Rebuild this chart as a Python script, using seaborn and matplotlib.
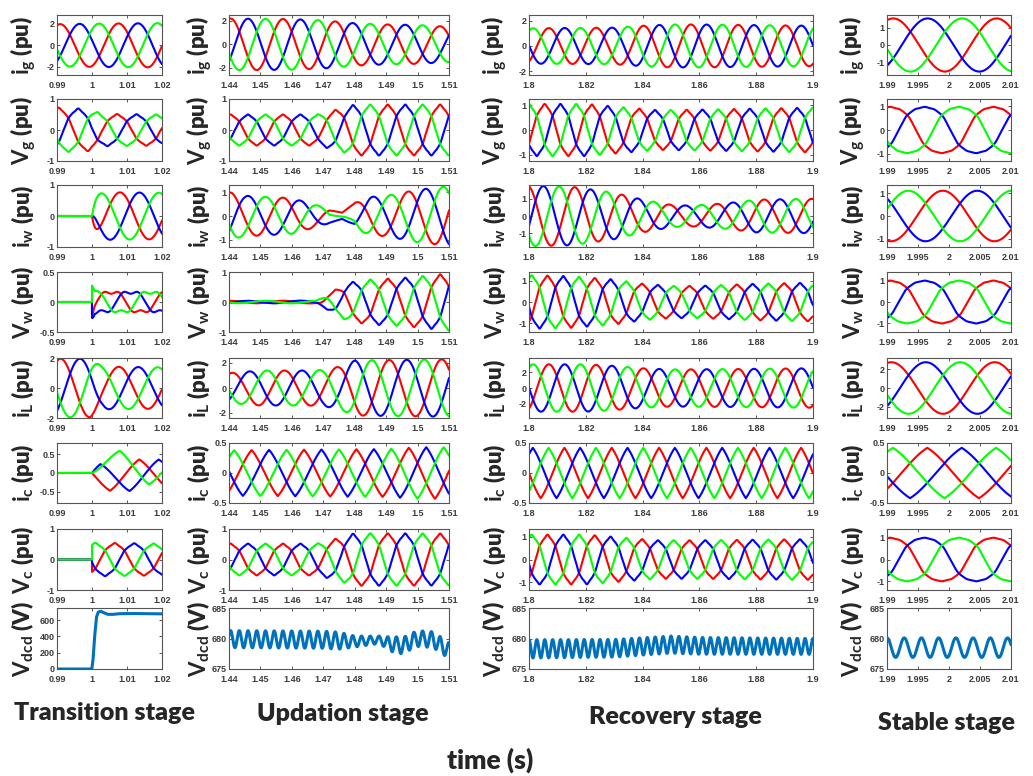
import numpy as np
import pandas as pd
import matplotlib
matplotlib.use("Agg")
import matplotlib.pyplot as plt
from matplotlib.ticker import FuncFormatter
import seaborn as sns

# ---------------------------------------------------------------- data
FREQ = 60.0            # grid frequency (Hz)
RIPPLE_FREQ = 360.0    # dc-link ripple frequency (Hz)

STAGES = ["Transition stage", "Updation stage", "Recovery stage", "Stable stage"]
STAGE_XLIM = [(0.99, 1.02), (1.44, 1.51), (1.8, 1.9), (1.99, 2.01)]
STAGE_XTICKS = [
    [0.99, 1.0, 1.01, 1.02],
    [1.44, 1.45, 1.46, 1.47, 1.48, 1.49, 1.5, 1.51],
    [1.8, 1.82, 1.84, 1.86, 1.88, 1.9],
    [1.99, 1.995, 2.0, 2.005, 2.01],
]

ROW_LABELS = [
    r"$\mathrm{i_g}$ (pu)", r"$\mathrm{V_g}$ (pu)", r"$\mathrm{i_w}$ (pu)",
    r"$\mathrm{V_w}$ (pu)", r"$\mathrm{i_L}$ (pu)", r"$\mathrm{i_c}$ (pu)",
    r"$\mathrm{V_c}$ (pu)", r"$\mathrm{V_{dcd}}$ (V)",
]

PHASES = ["a", "b", "c"]
PHASE_COLORS = {"a": "#ff0000", "b": "#0000ff", "c": "#00ff00"}
PHASE_OFFSETS = [0.0, -2 * np.pi / 3, 2 * np.pi / 3]

# y limits and ticks (rows: ig, Vg, iw, Vw, iL, ic, Vc, Vdcd)
YLIMS = [
    [(-2.75, 2.8), (-1, 1), (-1, 1), (-0.5, 0.5), (-2, 2), (-0.8, 0.8), (-1, 1), (0, 750)],
    [(-2.6, 2.5), (-1, 1), (-1.3, 1.3), (-1, 1), (-2.4, 2.4), (-0.5, 0.5), (-1, 1), (675, 685)],
    [(-2.3, 2.45), (-1.25, 1.25), (-1.8, 1.8), (-1.4, 1.4), (-3.8, 3.8), (-0.5, 0.5), (-1.35, 1.35), (675, 685)],
    [(-1.75, 1.75), (-1.3, 1.3), (-1.35, 1.35), (-1.4, 1.4), (-3.2, 3.2), (-0.5, 0.5), (-1.4, 1.4), (675, 685)],
]
YTICKS = [
    [[-2, 0, 2], [-1, 0, 1], [-1, 0, 1], [-0.5, 0, 0.5], [-2, 0, 2], [-0.5, 0, 0.5], [-1, 0, 1], [0, 200, 400, 600]],
    [[-2, 0, 2], [-1, 0, 1], [-1, 0, 1], [-1, 0, 1], [-2, 0, 2], [-0.5, 0, 0.5], [-1, 0, 1], [675, 680, 685]],
    [[-2, 0, 2], [-1, 0, 1], [-1, 0, 1], [-1, 0, 1], [-2, 0, 2], [-0.5, 0, 0.5], [-1, 0, 1], [675, 680, 685]],
    [[-1, 0, 1], [-1, 0, 1], [-1, 0, 1], [-1, 0, 1], [-2, 0, 2], [-0.5, 0, 0.5], [-1, 0, 1], [675, 680, 685]],
]

# harmonic content of the voltage traces: {order: relative amplitude}
SHAPE_HARM = {
    "volt": {3: -0.03, 5: 0.03, 7: 0.02, 11: 0.012},
    "square": {3: -0.22, 5: -0.04},
    "trap": {3: -0.09, 5: 0.02, 11: 0.01},
}

# --- transition stage (switch-on at 1.0 s)
TR_ONSET = 1.0
TR_REF = [0.9909, 0.9905, 1.0080, 1.0055, 0.9910, 1.0135, 1.0065]
TR_SHAPE = ["sine", "volt", "sine", "square", "sine", "tri", "volt"]
TR_TAU = [0, 0, 1.0e-3, 0, 0, 12e-3, 0]
TR_AMP = [
    ([0.99, 1.0, 1.02], [1.95, 2.0, 2.05]),
    ([0.99, 0.999, 1.003, 1.02], [0.72, 0.68, 0.52, 0.5]),
    ([0.99, 0.99999, 1.0, 1.02], [0.0, 0.0, 0.77, 0.75]),
    ([0.99, 0.99999, 1.0, 1.0008, 1.002, 1.02], [0.0, 0.0, 0.34, 0.2, 0.17, 0.17]),
    ([0.99, 0.9995, 1.003, 1.02], [1.95, 1.95, 1.42, 1.38]),
    ([0.99, 0.99999, 1.0, 1.02], [0.0, 0.0, 0.4, 0.4]),
    ([0.99, 0.99999, 1.0, 1.02], [0.0, 0.0, 0.55, 0.52]),
]
TR_VDC_T = [0.99, 0.99995, 1.0003, 1.0008, 1.0013, 1.0018, 1.0025, 1.0035, 1.0045, 1.006, 1.008, 1.012, 1.02]
TR_VDC_V = [0, 0, 120, 420, 640, 700, 710, 690, 672, 672, 680, 682, 678]

# --- updation stage
UP_REF = [1.4405, 1.4405, 1.4405, 1.4405, 1.4410, 1.4472, 1.4405]
UP_SHAPE = ["sine", "volt", "sine", "volt", "sine", "tri", "volt"]
UP_IW_SHIFT = ([1.44, 1.472, 1.48, 1.51], [0.0, 0.0, 6.5e-3, 6.5e-3])
UP_AMP = [
    ([1.44, 1.46, 1.47, 1.48, 1.49, 1.5, 1.51], [2.2, 2.15, 2.05, 1.8, 1.7, 1.65, 1.5]),
    ([1.44, 1.468, 1.474, 1.48, 1.51], [0.5, 0.5, 0.65, 0.82, 0.82]),
    ([1.44, 1.445, 1.46, 1.468, 1.476, 1.48, 1.485, 1.49, 1.5, 1.51],
     [1.0, 0.85, 0.75, 0.45, 0.15, 0.55, 0.8, 0.85, 1.1, 1.25]),
    ([1.44, 1.468, 1.472, 1.478, 1.485, 1.495, 1.51], [0.04, 0.05, 0.3, 0.65, 0.75, 0.8, 0.95]),
    ([1.44, 1.45, 1.465, 1.47, 1.475, 1.48, 1.51], [1.2, 1.4, 1.4, 1.45, 1.7, 2.2, 2.3]),
    ([1.44, 1.49, 1.5, 1.51], [0.38, 0.4, 0.43, 0.43]),
    ([1.44, 1.468, 1.474, 1.48, 1.51], [0.52, 0.52, 0.68, 0.86, 0.85]),
]
UP_VDC_REF = 1.4405
UP_VDC_MEAN = ([1.44, 1.47, 1.48, 1.488, 1.49, 1.495, 1.5, 1.505, 1.51],
               [679.9, 679.8, 679.5, 679.8, 679.3, 678.8, 680.0, 679.8, 678.0])
UP_VDC_RIPPLE = ([1.44, 1.475, 1.48, 1.488, 1.492, 1.51], [1.4, 1.4, 0.9, 0.6, 1.3, 1.3])

# --- recovery stage
RC_REF = [1.8070, 1.8055, 1.7995, 1.8065, 1.8070, 1.7958, 1.8065]
RC_SHAPE = ["sine", "volt", "sine", "volt", "sine", "tri", "volt"]
RC_AMP = [
    ([1.8, 1.83, 1.84, 1.85, 1.86, 1.9], [1.4, 1.45, 1.6, 1.7, 1.7, 1.6]),
    ([1.8, 1.82, 1.83, 1.845, 1.86, 1.9], [1.05, 1.05, 0.95, 0.8, 0.82, 0.9]),
    ([1.8, 1.815, 1.83, 1.84, 1.85, 1.857, 1.87, 1.88, 1.9],
     [1.75, 1.7, 1.35, 0.95, 0.65, 0.6, 0.75, 0.95, 1.0]),
    ([1.8, 1.815, 1.83, 1.84, 1.85, 1.86, 1.88, 1.9], [1.25, 1.2, 1.05, 0.85, 0.75, 0.75, 0.85, 0.9]),
    ([1.8, 1.82, 1.83, 1.84, 1.85, 1.87, 1.9], [3.0, 3.0, 2.8, 2.5, 2.35, 2.4, 2.5]),
    ([1.8, 1.9], [0.42, 0.42]),
    ([1.8, 1.82, 1.83, 1.845, 1.86, 1.9], [1.1, 1.1, 1.0, 0.85, 0.85, 0.9]),
]
RC_VDC_REF = 1.8
RC_VDC_MEAN = ([1.8, 1.83, 1.85, 1.86, 1.9], [678.3, 678.4, 679.0, 678.8, 678.7])
RC_VDC_RIPPLE = ([1.8, 1.9], [1.5, 1.3])

# --- stable stage
ST_REF = [1.9910, 1.9905, 1.9990, 1.9905, 1.9907, 1.9965, 1.9905]
ST_SHAPE = ["sine", "trap", "sine", "trap", "sine", "tri", "trap"]
ST_AMP = [
    ([1.99, 2.01], [1.55, 1.55]),
    ([1.99, 2.01], [0.97, 0.97]),
    ([1.99, 2.01], [1.1, 1.1]),
    ([1.99, 2.01], [1.0, 1.0]),
    ([1.99, 2.01], [2.75, 2.75]),
    ([1.99, 2.01], [0.42, 0.42]),
    ([1.99, 2.01], [1.0, 1.0]),
]
ST_VDC_REF = 1.99
ST_VDC_MEAN = ([1.99, 2.01], [678.5, 678.5])
ST_VDC_RIPPLE = ([1.99, 2.01], [1.6, 1.6])

# ---------------------------------------------------------------- layout (pixels)
W, H = 1033, 776
COL_LEFT = [57, 229, 529, 887]
COL_RIGHT = [162, 449, 813, 1011]
ROW_TOP = [15, 99, 185, 272, 358, 443, 529, 608]
ROW_BOTTOM = [75, 161, 247, 332, 418, 503, 590, 669]
LABEL_X = [23, 199, 494, 852]
STAGE_TITLE_POS = [(104, 713), (343, 714), (675, 717), (946, 723)]

# ---------------------------------------------------------------- style
sns.set_style("white")
plt.rcParams["font.family"] = ["Lato", "DejaVu Sans"]
plt.rcParams["mathtext.fontset"] = "custom"
plt.rcParams["mathtext.rm"] = "Lato:bold"
plt.rcParams["mathtext.it"] = "Lato:bold"
plt.rcParams["mathtext.bf"] = "Lato:bold"

TICK_COLOR = "#3c3c3c"


def harmonic_wave(theta, harm):
    out = np.cos(theta)
    for k, h in harm.items():
        out = out + h * np.cos(k * theta)
    return out


def waveform(theta, shape):
    if shape == "sine":
        return np.cos(theta)
    if shape == "tri":
        tri = (2 / np.pi) * np.arcsin(np.cos(theta))
        return 0.65 * tri + 0.35 * np.cos(theta)
    harm = SHAPE_HARM[shape]
    grid = np.linspace(0, 2 * np.pi, 2000)
    return harmonic_wave(theta, harm) / harmonic_wave(grid, harm).max()


def three_phase(t, ref, amp, shape, shift=None, onset=None, tau=0.0):
    s = np.interp(t, *shift) if shift is not None else 0.0
    theta = 2 * np.pi * FREQ * (t - ref - s)
    A = np.interp(t, *amp)
    frames = []
    for name, off in zip(PHASES, PHASE_OFFSETS):
        y = waveform(theta + off, shape)
        if tau > 0:
            th0 = 2 * np.pi * FREQ * (onset - ref) + off
            y = y - waveform(th0, shape) * np.exp(-np.clip(t - onset, 0, None) / tau)
        frames.append(pd.DataFrame({"time": t, "value": A * y, "phase": name}))
    return pd.concat(frames, ignore_index=True)


def ripple(t, ref, mean, amp):
    m = np.interp(t, *mean)
    a = np.interp(t, *amp)
    return pd.DataFrame({"time": t, "value": m + a * np.cos(2 * np.pi * RIPPLE_FREQ * (t - ref))})


STAGE_PARAMS = [
    (TR_REF, TR_SHAPE, TR_AMP),
    (UP_REF, UP_SHAPE, UP_AMP),
    (RC_REF, RC_SHAPE, RC_AMP),
    (ST_REF, ST_SHAPE, ST_AMP),
]

fig = plt.figure(figsize=(W / 100, H / 100), dpi=100)
fmt = FuncFormatter(lambda v, p: f"{v:g}")

for c in range(4):
    x0, x1 = STAGE_XLIM[c]
    t = np.linspace(x0, x1, 3001)
    refs, shapes, amps = STAGE_PARAMS[c]
    for r in range(8):
        L, R = COL_LEFT[c], COL_RIGHT[c]
        T, B = ROW_TOP[r], ROW_BOTTOM[r]
        ax = fig.add_axes([L / W, 1 - B / H, (R - L) / W, (B - T) / H])
        if r < 7:
            kw = {}
            if c == 0:
                kw = dict(onset=TR_ONSET, tau=TR_TAU[r])
            if c == 1 and r == 2:
                kw = dict(shift=UP_IW_SHIFT)
            df = three_phase(t, refs[r], amps[r], shapes[r], **kw)
            sns.lineplot(data=df, x="time", y="value", hue="phase", hue_order=PHASES,
                         palette=PHASE_COLORS, estimator=None, sort=False, legend=False,
                         linewidth=1.5, ax=ax)
        else:
            if c == 0:
                df = pd.DataFrame({"time": TR_VDC_T, "value": TR_VDC_V})
            elif c == 1:
                df = ripple(t, UP_VDC_REF, UP_VDC_MEAN, UP_VDC_RIPPLE)
            elif c == 2:
                df = ripple(t, RC_VDC_REF, RC_VDC_MEAN, RC_VDC_RIPPLE)
            else:
                df = ripple(t, ST_VDC_REF, ST_VDC_MEAN, ST_VDC_RIPPLE)
            sns.lineplot(data=df, x="time", y="value", color="#0072bd", estimator=None,
                         sort=False, linewidth=2.2, ax=ax)
        ax.set_xlim(x0, x1)
        ax.set_ylim(*YLIMS[c][r])
        ax.set_xticks(STAGE_XTICKS[c])
        ax.set_yticks(YTICKS[c][r])
        ax.xaxis.set_major_formatter(fmt)
        ax.yaxis.set_major_formatter(fmt)
        ax.set_xlabel("")
        ax.set_ylabel("")
        ax.tick_params(direction="in", length=2.5, width=0.6, color=TICK_COLOR,
                       labelsize=6.5, labelcolor=TICK_COLOR, pad=1.5,
                       top=True, right=True, bottom=True, left=True)
        ax.tick_params(axis="x", pad=4)
        for lab in ax.get_xticklabels() + ax.get_yticklabels():
            lab.set_fontweight("bold")
            lab.set_family(["Liberation Sans", "DejaVu Sans"])
        for sp in ax.spines.values():
            sp.set_color("#555555")
            sp.set_linewidth(0.8)
        fig.text(LABEL_X[c] / W, 1 - (T + B) / 2 / H, ROW_LABELS[r], rotation=90,
                 ha="center", va="center", fontsize=16, fontweight="heavy")

for name, (px, py) in zip(STAGES, STAGE_TITLE_POS):
    fig.text(px / W, 1 - py / H, name, ha="center", va="center", fontsize=18, fontweight="heavy")

fig.text(490 / W, 1 - 760 / H, "time (s)", ha="center", va="center", fontsize=19, fontweight="heavy")

fig.savefig("out.png", dpi=100)
